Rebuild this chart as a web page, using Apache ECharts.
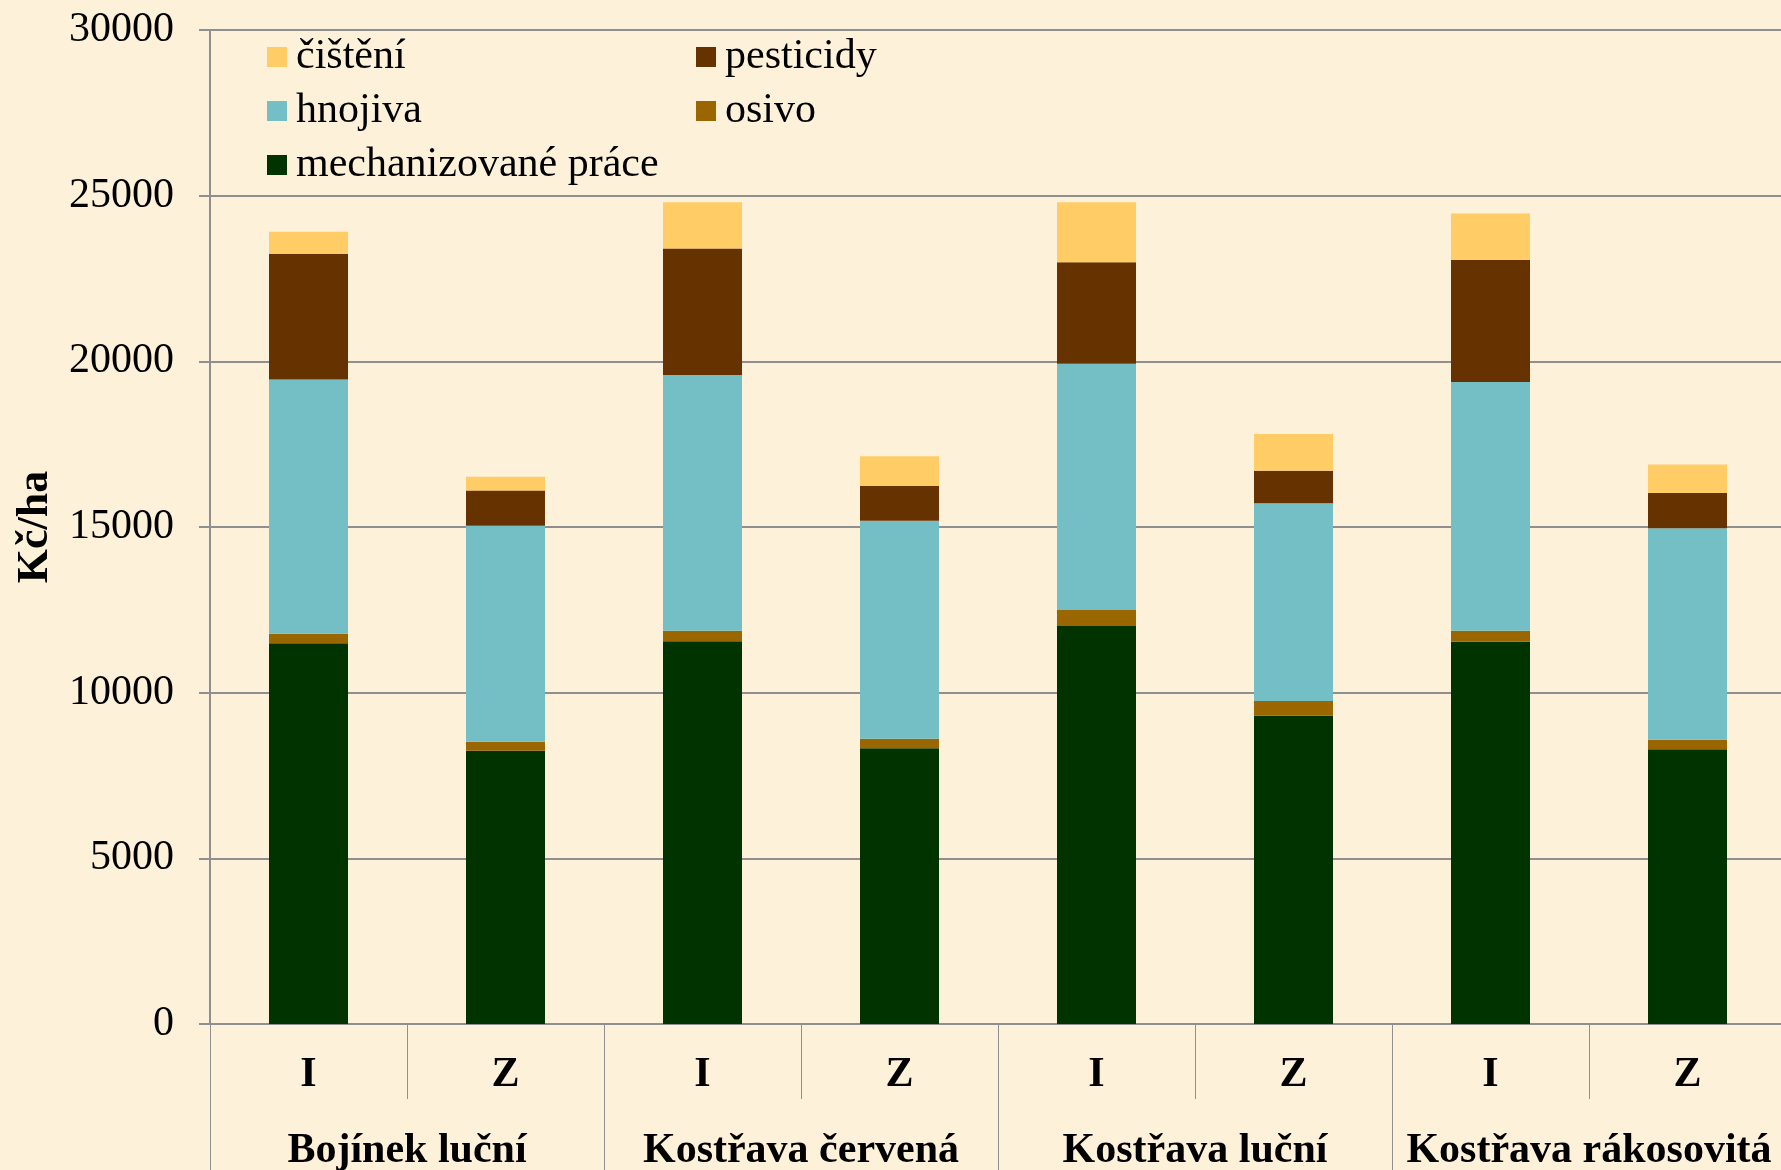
<!DOCTYPE html>
<html>
<head>
<meta charset="utf-8">
<script src="https://cdn.jsdelivr.net/npm/echarts@6/dist/echarts.min.js"></script>
<style>
html,body{margin:0;padding:0;background:#FDF1DA;}
#chart{width:1781px;height:1170px;}
</style>
</head>
<body>
<div id="chart"></div>
<script>
const categories = ['I','Z','I','Z','I','Z','I','Z'];
const groups = ['Bojínek luční','Kostřava červená','Kostřava luční','Kostřava rákosovitá'];
const yTicks = [0, 5000, 10000, 15000, 20000, 25000, 30000];

const mechanizovanePrace = [11490, 8250, 11550, 8320, 12010, 9300, 11540, 8290];
const osivo = [290, 265, 320, 290, 485, 450, 325, 290];
const hnojiva = [7670, 6525, 7715, 6580, 7435, 5970, 7515, 6385];
const pesticidy = [3800, 1060, 3820, 1055, 3060, 980, 3675, 1060];
const cisteni = [660, 415, 1400, 890, 1815, 1110, 1410, 865];

const serif = '"Liberation Serif", "Times New Roman", serif';
const gridColor = '#8F8F8F';

function bar(name, data, color) {
  return {
    name: name, type: 'bar', stack: 'total', xAxisIndex: 0, yAxisIndex: 0,
    data: data, barWidth: 79,
    itemStyle: { color: color },
    emphasis: { disabled: true }
  };
}

const chart = echarts.init(document.getElementById('chart'), null, {renderer: 'canvas'});
chart.setOption({
  backgroundColor: '#FDF1DA',
  animation: false,
  grid: { left: 210, right: -5, top: 30, bottom: 146, containLabel: false, outerBoundsMode: 'none' },
  legend: [
    {
      orient: 'vertical', left: 262, top: 31, itemGap: 12,
      itemWidth: 20, itemHeight: 20, icon: 'rect',
      data: ['čištění', 'hnojiva', 'mechanizované práce'],
      textStyle: { fontFamily: serif, fontSize: 42, color: '#000', padding: [0,0,0,4] }
    },
    {
      orient: 'vertical', left: 691, top: 31, itemGap: 12,
      itemWidth: 20, itemHeight: 20, icon: 'rect',
      data: ['pesticidy', 'osivo'],
      textStyle: { fontFamily: serif, fontSize: 42, color: '#000', padding: [0,0,0,4] }
    }
  ],
  xAxis: [
    {
      type: 'category', data: categories, position: 'bottom', offset: 0,
      axisLine: { show: true, lineStyle: { color: gridColor, width: 2 } },
      axisTick: { show: true, interval: 0, length: 75, lineStyle: { color: gridColor, width: 1 } },
      axisLabel: { interval: 0, margin: 30, fontFamily: serif, fontSize: 42, fontWeight: 'bold', color: '#000' }
    },
    {
      type: 'category', data: groups, position: 'bottom', offset: 0,
      axisLine: { show: false },
      axisTick: { show: true, interval: 0, length: 150, lineStyle: { color: gridColor, width: 1 } },
      axisLabel: { interval: 0, margin: 106, fontFamily: serif, fontSize: 42, fontWeight: 'bold', color: '#000' }
    }
  ],
  yAxis: {
    type: 'value', min: yTicks[0], max: yTicks[yTicks.length - 1], interval: yTicks[1] - yTicks[0],
    name: 'Kč/ha', nameLocation: 'middle', nameRotate: 90, nameGap: 152,
    nameTextStyle: { fontFamily: serif, fontSize: 44, fontWeight: 'bold', color: '#000' },
    axisLine: { show: true, lineStyle: { color: gridColor, width: 2 } },
    axisTick: { show: true, inside: false, length: 11, lineStyle: { color: gridColor, width: 2 } },
    axisLabel: { margin: 36, fontFamily: serif, fontSize: 42, color: '#000', formatter: function (v) { return String(v); } },
    splitLine: { show: true, lineStyle: { color: gridColor, width: 2 } }
  },
  series: [
    bar('mechanizované práce', mechanizovanePrace, '#003300'),
    bar('osivo', osivo, '#996600'),
    bar('hnojiva', hnojiva, '#73BFC5'),
    bar('pesticidy', pesticidy, '#663300'),
    bar('čištění', cisteni, '#FFCC66')
  ]
});
</script>
</body>
</html>
